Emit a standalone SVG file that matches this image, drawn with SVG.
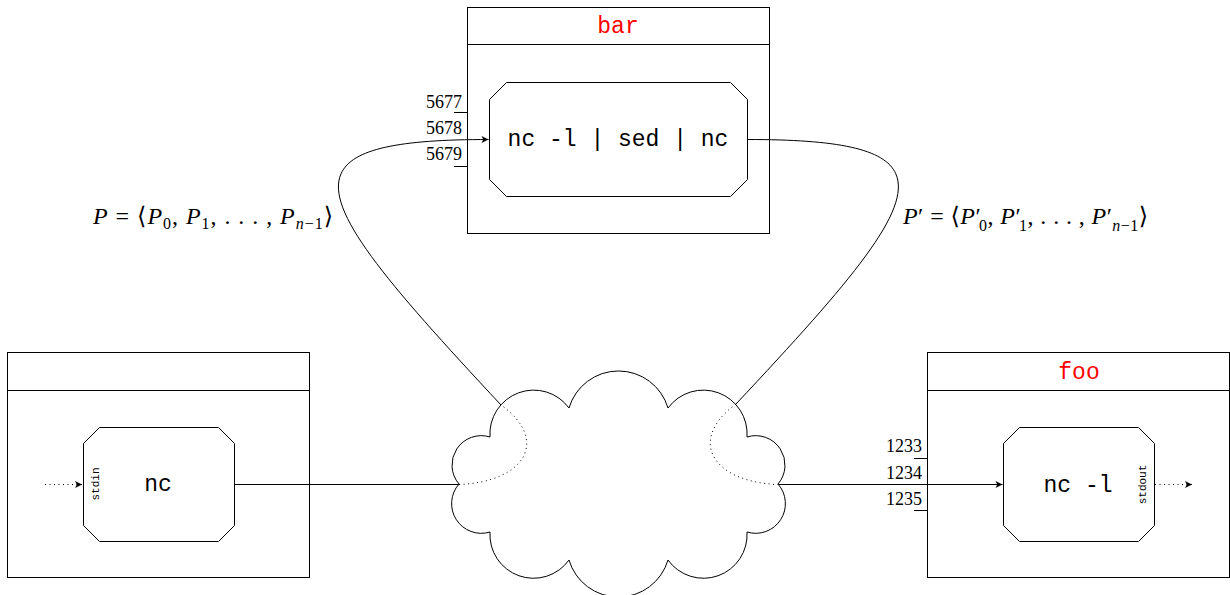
<svg xmlns="http://www.w3.org/2000/svg" width="1230" height="595" viewBox="0 0 1230 595">
<style>
.box{fill:none;stroke:#000;stroke-width:1}
.oct{fill:#fff;stroke:#000;stroke-width:1}
.mono{font-family:"Liberation Mono","DejaVu Sans Mono",monospace;fill:#000}
.title{font-family:"Liberation Mono","DejaVu Sans Mono",monospace;font-size:23px;fill:#ff0000;text-anchor:middle}
.cmd{font-size:23px;text-anchor:middle}
.small{font-size:11px;text-anchor:middle}
.port{font-family:"Liberation Serif","DejaVu Serif",serif;font-size:18px;text-anchor:end;fill:#000}
.math{font-family:"Liberation Serif","DejaVu Serif",serif;font-size:24px;fill:#000}
.it{font-style:italic}
.sub{font-size:16px}
.line{fill:none;stroke:#000;stroke-width:1}
.dot{fill:none;stroke:#000;stroke-width:1;stroke-dasharray:1 3.5}
</style>
<defs>
<marker id="arr" viewBox="-8 -4 9 8" refX="0" refY="0" markerWidth="9" markerHeight="8" markerUnits="userSpaceOnUse" orient="auto">
<path d="M0,0 L-7,-3.5 L-5.2,0 L-7,3.5 Z" fill="#000"/>
</marker>
</defs>

<g id="bar">
<rect class="box" x="467.5" y="7.5" width="302" height="226"/>
<line class="line" x1="467.5" y1="44.5" x2="769.5" y2="44.5"/>
<text class="title" x="618" y="33">bar</text>
<path class="oct" d="M506.5,82.5 H730.5 L747.5,99.5 V179.5 L730.5,196.5 H506.5 L489.5,179.5 V99.5 Z"/>
<text class="mono cmd" x="618" y="146">nc -l | sed | nc</text>
<text class="port" x="462" y="108">5677</text>
<text class="port" x="462" y="134">5678</text>
<text class="port" x="462" y="160">5679</text>
<line class="line" x1="454" y1="112.5" x2="467.5" y2="112.5"/>
<line class="line" x1="454" y1="166.5" x2="467.5" y2="166.5"/>
</g>

<g id="src">
<rect class="box" x="7.5" y="352.5" width="302" height="225"/>
<line class="line" x1="7.5" y1="390.5" x2="309.5" y2="390.5"/>
<path class="oct" d="M99.5,427.5 H218.5 L234.5,443.5 V525.5 L218.5,541.5 H99.5 L83.5,525.5 V443.5 Z"/>
<text class="mono cmd" x="158" y="491">nc</text>
<text class="mono small" transform="translate(98.5,484) rotate(-90)">stdin</text>
</g>

<g id="foo">
<rect class="box" x="927.5" y="352.5" width="302" height="225"/>
<line class="line" x1="927.5" y1="390.5" x2="1229.5" y2="390.5"/>
<text class="title" x="1079" y="379">foo</text>
<path class="oct" d="M1019.5,427.5 H1138.5 L1154.5,443.5 V525.5 L1138.5,541.5 H1019.5 L1003.5,525.5 V443.5 Z"/>
<text class="mono cmd" x="1078" y="492">nc -l</text>
<text class="mono small" transform="translate(1146,484.5) rotate(-90)">stdout</text>
<text class="port" x="922" y="452">1233</text>
<text class="port" x="922" y="479">1234</text>
<text class="port" x="922" y="505">1235</text>
<line class="line" x1="914" y1="458.5" x2="927.5" y2="458.5"/>
<line class="line" x1="914" y1="510.5" x2="927.5" y2="510.5"/>
</g>

<g id="cloud">
<path fill="#fff" stroke="#000" stroke-width="1" d="M459,484 A29.3,29.3 0 0 1 490,437 A43.8,43.8 0 0 1 569,408 A51.6,51.6 0 0 1 668,408 A43.8,43.8 0 0 1 747,437 A29.3,29.3 0 0 1 778,484 A29.7,29.7 0 0 1 747,532 A43.6,43.6 0 0 1 668,560 A51.6,51.6 0 0 1 569,560 A43.6,43.6 0 0 1 490,532 A29.7,29.7 0 0 1 459,484 Z"/>
</g>

<g id="connectors">
<line class="dot" x1="45" y1="484.5" x2="82" y2="484.5" marker-end="url(#arr)"/>
<line class="line" x1="234.5" y1="484.5" x2="459" y2="484.5"/>
<path class="dot" d="M459,484.5 C525,482 550,440 501,405"/>
<path class="line" d="M501,405 C305,195 269,139.5 488.5,139.5" marker-end="url(#arr)"/>
<path class="line" d="M747.5,139.5 C967,139.5 933,194 736,404"/>
<path class="dot" d="M736,404 C687,440 712,482 778,484.5"/>
<line class="line" x1="778" y1="484.5" x2="1002.5" y2="484.5" marker-end="url(#arr)"/>
<line class="dot" x1="1155" y1="484.5" x2="1192" y2="484.5" marker-end="url(#arr)"/>
</g>

<g id="labels">
<text class="math" x="93" y="224" textLength="240" lengthAdjust="spacing"><tspan class="it">P</tspan> = ⟨<tspan class="it">P</tspan><tspan class="sub" dy="5">0</tspan><tspan dy="-5">, </tspan><tspan class="it">P</tspan><tspan class="sub" dy="5">1</tspan><tspan dy="-5">, . . . , </tspan><tspan class="it">P</tspan><tspan class="sub it" dy="5">n</tspan><tspan class="sub">−1</tspan><tspan dy="-5">⟩</tspan></text>
<text class="math" x="903" y="224" textLength="245" lengthAdjust="spacing"><tspan class="it">P</tspan>′ = ⟨<tspan class="it">P</tspan>′<tspan class="sub" dx="-2" dy="7">0</tspan><tspan dy="-7">, </tspan><tspan class="it">P</tspan>′<tspan class="sub" dx="-2" dy="7">1</tspan><tspan dy="-7">, . . . , </tspan><tspan class="it">P</tspan>′<tspan class="sub it" dy="7">n</tspan><tspan class="sub">−1</tspan><tspan dy="-7">⟩</tspan></text>
</g>
</svg>
